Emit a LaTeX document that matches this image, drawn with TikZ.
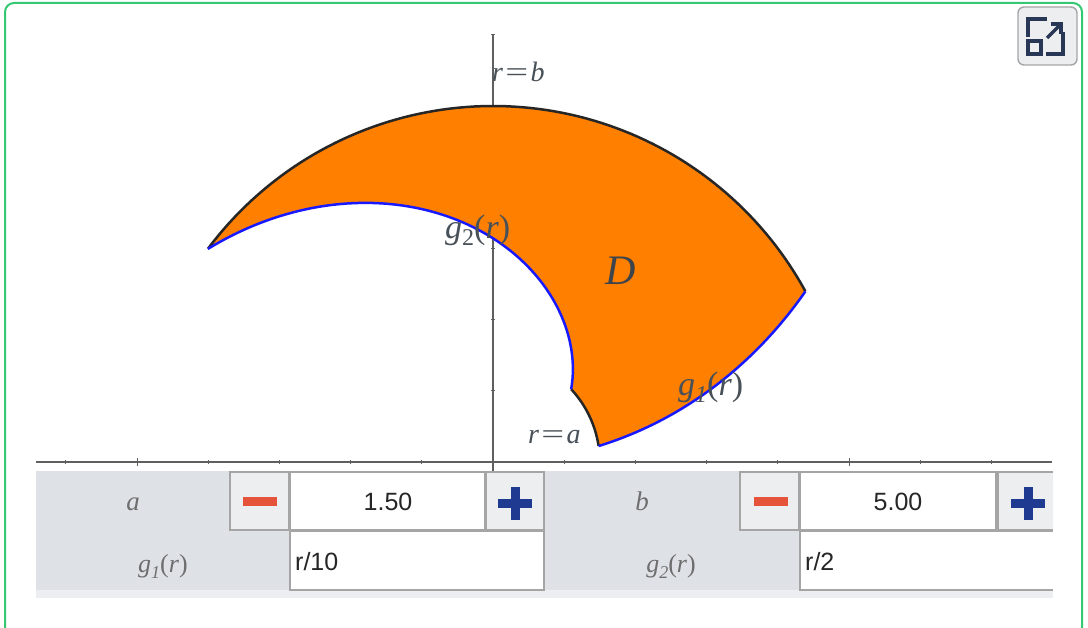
\documentclass[tikz,border=0pt]{standalone}
\usepackage{fontspec}
\usepackage{graphicx}
\setmainfont{Liberation Serif}
\newfontfamily\sansf{Liberation Sans}
\usetikzlibrary{arrows.meta}
\definecolor{ggorange}{RGB}{255,127,0}
\definecolor{ggblue}{RGB}{25,25,255}
\definecolor{ggtext}{RGB}{72,80,88}
\definecolor{gglabel}{RGB}{110,110,110}
\definecolor{ggaxis}{RGB}{95,95,95}
\definecolor{ggpanel}{RGB}{222,226,231}
\definecolor{ggstrip}{RGB}{236,238,241}
\definecolor{ggbtn}{RGB}{236,238,240}
\definecolor{ggborder}{RGB}{165,165,165}
\definecolor{ggred}{RGB}{228,83,58}
\definecolor{ggplus}{RGB}{30,58,145}
\definecolor{gggreen}{RGB}{52,200,115}
\definecolor{ggnavy}{RGB}{40,55,85}
\newcommand{\fsz}[1]{\fontsize{#1}{#1}\selectfont}
\newcommand{\wideeq}{\hspace{0.08em}\scalebox{1.45}[1]{=}\hspace{0.08em}}
\begin{document}
\begin{tikzpicture}[x=1pt,y=-1pt,
  axisline/.style={ggaxis, line width=1.6pt},
  tickline/.style={ggaxis, line width=1pt},
  bluecurve/.style={ggblue, line width=2.5pt, line join=round},
  blackcurve/.style={black!85, line width=2.5pt, line join=round},
  plotlabel/.style={text=ggtext, inner sep=0pt, anchor=base west},
  panellabel/.style={text=gglabel, inner sep=0pt, anchor=base},
  btnbox/.style={draw=ggborder, fill=ggbtn, line width=1.2pt},
  inbox/.style={draw=ggborder, fill=white, line width=1.2pt},
  valtext/.style={text=black!85, inner sep=0pt, font=\sansf\fsz{25}},
  iconline/.style={ggnavy, line width=3.2pt}
]
\useasboundingbox (0,0) rectangle (1088,628);
\clip (0,0) rectangle (1088,628);
\fill[white] (0,0) rectangle (1088,628);
% frame
\draw[gggreen, line width=2pt, rounded corners=9pt] (5,3) rectangle (1082,680);

% axes
\draw[axisline] (36,462) -- (1052,462);
\draw[axisline] (493,34) -- (493,473);
\foreach \n in {-6,-4,-3,-2,-1,1,2,3,4,6,7}{
  \draw[tickline] ({493+71.2*\n},460) -- ({493+71.2*\n},464);
}
\foreach \n in {-5,5}{
  \draw[tickline] ({493+71.2*\n},458) -- ({493+71.2*\n},466);
}
\foreach \n in {1,2,3,4,6}{
  \draw[tickline] (491,{462-71.2*\n}) -- (495,{462-71.2*\n});
}
\draw[tickline] (489,{462-356}) -- (497,{462-356});

% region D
\fill[ggorange]
  plot[domain=1.5:5, samples=70] ({493+71.2*\x*cos(deg(\x/10))},{462-71.2*\x*sin(deg(\x/10))})
  -- plot[domain=0.5:2.5, samples=90] ({493+356*cos(deg(\x))},{462-356*sin(deg(\x))})
  -- plot[domain=5:1.5, samples=90] ({493+71.2*\x*cos(deg(\x/2))},{462-71.2*\x*sin(deg(\x/2))})
  -- plot[domain=0.75:0.15, samples=30] ({493+106.8*cos(deg(\x))},{462-106.8*sin(deg(\x))})
  -- cycle;
\draw[blackcurve] plot[domain=0.5:2.5, samples=90] ({493+356*cos(deg(\x))},{462-356*sin(deg(\x))});
\draw[blackcurve] plot[domain=0.15:0.75, samples=30] ({493+106.8*cos(deg(\x))},{462-106.8*sin(deg(\x))});
\draw[bluecurve] plot[domain=1.5:5, samples=70] ({493+71.2*\x*cos(deg(\x/10))},{462-71.2*\x*sin(deg(\x/10))});
\draw[bluecurve] plot[domain=1.5:5, samples=90] ({493+71.2*\x*cos(deg(\x/2))},{462-71.2*\x*sin(deg(\x/2))});

% plot labels
\node[plotlabel, font=\fsz{28}] (lb) at (492,82) {\textit{r}\wideeq\textit{b}};
\node[plotlabel, font=\fsz{28}] (la) at (528,443) {\textit{r}\wideeq\textit{a}};
\node[plotlabel, font=\fsz{34}] (lg2) at (445,239) {\textit{g}\raisebox{-0.2em}{\fsz{24}2}(\textit{r})};
\node[plotlabel, font=\fsz{34}] (lg1) at (678,396) {\textit{g}\raisebox{-0.2em}{\fsz{24}\textit{1}}(\textit{r})};
\node[plotlabel, font=\fsz{42}, text=ggtext!85!black] (lD) at (605,285) {\textit{D}};

% panel
\fill[ggpanel] (36,471) rectangle (1053,590);
\fill[ggstrip] (36,590) rectangle (1053,598);
% row 1 left
\draw[btnbox] (230,472) rectangle (289,530);
\fill[ggred] (243,497) rectangle (277,506);
\draw[inbox] (290,472) rectangle (485,530);
\draw[btnbox] (486,472) rectangle (544,530);
\fill[ggplus] (498,499) rectangle (532,508);
\fill[ggplus] (510.5,487) rectangle (519.5,520);
% row 1 right
\draw[btnbox] (740,472) rectangle (799,530);
\fill[ggred] (754,497) rectangle (788,506);
\draw[inbox] (800,472) rectangle (996,530);
\draw[btnbox] (998,472) rectangle (1060,530);
\fill[ggplus] (1011,499) rectangle (1045,508);
\fill[ggplus] (1023.5,487) rectangle (1032.5,520);
% row 2 boxes
\draw[inbox] (290,531) rectangle (544,590);
\draw[inbox] (800,531) rectangle (1060,590);
\fill[white] (1053,470) rectangle (1081,600);

% panel texts
\node[panellabel, font=\fsz{27}] (pa) at (133,511) {\textit{a}};
\node[panellabel, font=\fsz{27}] (pb) at (642,511) {\textit{b}};
\node[panellabel, font=\fsz{26}] (pg1) at (163,572) {\textit{g}\raisebox{-0.25em}{\fsz{18}\textit{1}}(\textit{r})};
\node[panellabel, font=\fsz{26}] (pg2) at (671,572) {\textit{g}\raisebox{-0.25em}{\fsz{18}\textit{2}}(\textit{r})};
\node[valtext, anchor=base] (va) at (388,510) {1.50};
\node[valtext, anchor=base] (vb) at (898,510) {5.00};
\node[valtext, anchor=base west] (vg1) at (295,570) {r/10};
\node[valtext, anchor=base west] (vg2) at (805,570) {r/2};

% fullscreen button
\draw[ggborder, fill=ggbtn, line width=1.4pt, rounded corners=6pt] (1018,7) rectangle (1077,65);
\draw[iconline] (1047,19) -- (1028,19) -- (1028,37);
\draw[iconline] (1028,41) rectangle (1041,54);
\draw[iconline] (1046,54) -- (1063,54) -- (1063,32);
\draw[iconline] (1047,38) -- (1060,25);
\draw[iconline, line join=miter] (1051,24) -- (1061,24) -- (1061,34);
\end{tikzpicture}
\end{document}
